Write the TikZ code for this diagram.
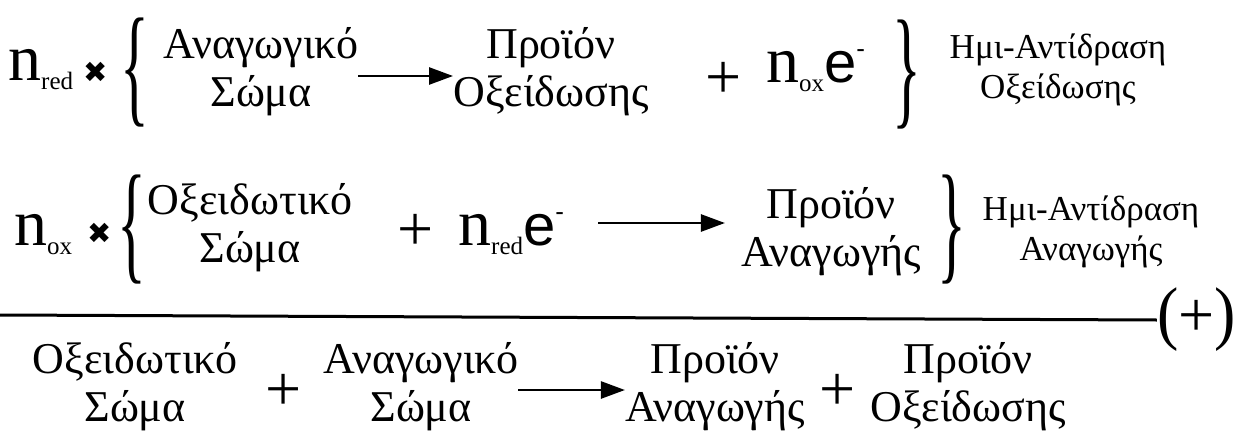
\documentclass[tikz,border=0pt]{standalone}
\usepackage{graphicx}
\usepackage{fontspec}
\setmainfont{Liberation Serif}
\newfontfamily\symfont{DejaVu Sans}
\newfontfamily\elfont{Liberation Sans}
\usetikzlibrary{arrows.meta,positioning}
\newcommand{\coef}[1]{n\raisebox{-0.15em}{\fontsize{25}{25}\selectfont #1}}
\newcommand{\elec}{{\elfont\fontsize{58}{58}\selectfont e\raisebox{0.42em}{\fontsize{26}{26}\selectfont -}}}
\newcommand{\tms}{{\symfont\fontsize{29}{29}\selectfont ✖}}
\newcommand{\lbr}{\scalebox{1.5}[3.3]{\{}}
\newcommand{\rbr}{\scalebox{1.5}[3.3]{\}}}
\tikzset{big/.style={font=\fontsize{44}{48}\selectfont,align=center,inner sep=0pt},note/.style={font=\fontsize{35}{40}\selectfont,align=center,inner sep=0pt},coeff/.style={font=\fontsize{66}{66}\selectfont,inner sep=0pt},brc/.style={font=\fontsize{40}{40}\selectfont,inner sep=0pt},pluss/.style={font=\fontsize{64}{64}\selectfont,inner sep=0pt},rxn/.style={-{Triangle[length=24pt,width=17pt]},line width=2.6pt}}

\begin{document}
\begin{tikzpicture}[x=1pt,y=-1pt]
\useasboundingbox (0,0) rectangle (1238,436);
% half reaction: oxidation
\node[coeff,anchor=base west] (nred1) at (8,80) {\coef{red}};
\node (times1) at (96,72) {\tms};
\node[brc] (lb1) at (135,73) {\lbr};
\node[big] (red1) at (261,72) {Αναγωγικό\\Σώμα};
\node[big] (prod1) at (551,72) {Προϊόν\\Οξείδωσης};
\node[pluss] (plus1) at (724,80) {+};
\node[coeff,anchor=base west] (nox1) at (766,82) {\coef{ox}\elec};
\node[brc] (rb1) at (907,75) {\rbr};
\node[note] (half1) at (1058,70) {Ημι-Αντίδραση\\Οξείδωσης};
\draw[rxn] ([yshift=-4pt]red1.east) -- ([yshift=-4pt]red1.east -| prod1.west);
% half reaction: reduction
\node[coeff,anchor=base west] (nox2) at (14,245) {\coef{ox}};
\node (times2) at (100,233) {\tms};
\node[brc] (lb2) at (132,230) {\lbr};
\node[big] (ox2) at (250,228) {Οξειδωτικό\\Σώμα};
\node[pluss] (plus2) at (416,232) {+};
\node[coeff,anchor=base west] (nred2) at (458,245) {\coef{red}\elec};
\node[big] (prod2) at (831,232) {Προϊόν\\Αναγωγής};
\node[brc] (rb2) at (952,230) {\rbr};
\node[note] (half2) at (1091,232) {Ημι-Αντίδραση\\Αναγωγής};
\draw[rxn,shorten <=34pt,shorten >=16pt] (nred2.east |- 0,223) -- (prod2.west |- 0,223);
% sum
\node[font=\fontsize{64}{64}\selectfont,inner sep=0pt,anchor=east] (sum) at (1236,320) {\scalebox{1}[1.1]{(}+\scalebox{1}[1.1]{)}};
\draw[line width=3pt] (0,315) -- (sum.west);
\node[big] (ox3) at (135,387) {Οξειδωτικό\\Σώμα};
\node[pluss] (plus3) at (284,392) {+};
\node[big] (red3) at (421,387) {Αναγωγικό\\Σώμα};
\node[big] (prod3) at (715,387) {Προϊόν\\Αναγωγής};
\node[pluss] (plus4) at (838,392) {+};
\node[big] (prod4) at (968,387) {Προϊόν\\Οξείδωσης};
\draw[rxn] ([yshift=-3pt]red3.east) -- ([yshift=-3pt]red3.east -| prod3.west);
\end{tikzpicture}
\end{document}
